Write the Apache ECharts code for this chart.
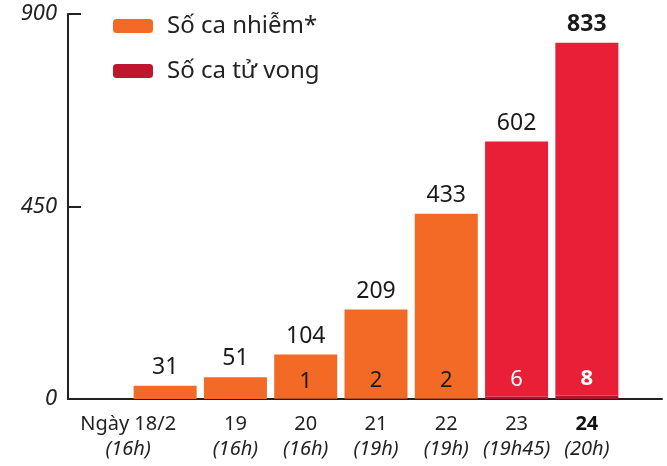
<!DOCTYPE html>
<html>
<head>
<meta charset="utf-8">
<script src="https://cdn.jsdelivr.net/npm/echarts@6/dist/echarts.min.js"></script>
<style>
  html, body { margin: 0; padding: 0; background: #fff; }
  #chart { width: 667px; height: 466px; }
</style>
</head>
<body>
<div id="chart"></div>
<script>
var days = ['Ngày 18/2', '19', '20', '21', '22', '23', '24'];
var times = ['(16h)', '(16h)', '(16h)', '(19h)', '(19h)', '(19h45)', '(20h)'];
var infected = [31, 51, 104, 209, 433, 602, 833];
var deaths = [0, 0, 1, 2, 2, 6, 8];
var yTicks = [0, 450, 900];

var ORANGE = '#f26a25';
var RED = '#e91f37';
var DARK = '#a51a2b';
var FONT = 'Noto Sans';

var myChart = echarts.init(document.getElementById('chart'));

var catData = days.map(function (d, i) {
    var item = { value: d };
    if (i === 0) {
        item.textStyle = { padding: [0, 74, 0, 0] };
    }
    return item;
});

var restData = infected.map(function (v, i) {
    return {
        value: v - deaths[i],
        itemStyle: { color: i >= 5 ? RED : ORANGE },
        label: i === 6 ? { fontWeight: 'bold' } : {}
    };
});

var deathData = deaths.map(function (v, i) {
    return {
        value: v,
        itemStyle: { color: i >= 5 ? DARK : '#c4501b' },
        label: {
            show: v > 0,
            color: i >= 5 ? '#fff' : '#1a1a1a',
            fontWeight: i === 6 ? 'bold' : 'normal'
        }
    };
});

var option = {
    animation: false,
    textStyle: { fontFamily: FONT },
    legend: {
        orient: 'vertical',
        left: 113,
        top: 12,
        padding: 0,
        itemWidth: 40,
        itemHeight: 14,
        itemGap: 17,
        selectedMode: false,
        textStyle: { fontSize: 24, color: '#222', lineHeight: 28, padding: [0, 0, 0, 9] },
        data: [
            { name: 'Số ca nhiễm*', itemStyle: { color: ORANGE } },
            { name: 'Số ca tử vong', itemStyle: { color: '#c0152f' } }
        ]
    },
    grid: [
        { left: 68, right: 5, top: 14, bottom: 67 },
        { left: 130, right: 45, top: 14, bottom: 67 }
    ],
    xAxis: [
        {
            gridIndex: 0,
            type: 'value',
            min: 0,
            max: 1,
            axisLine: { show: true, onZero: false, lineStyle: { color: '#222', width: 2 } },
            axisTick: { show: false },
            axisLabel: { show: false },
            splitLine: { show: false }
        },
        {
            gridIndex: 1,
            type: 'category',
            data: catData,
            axisLine: { show: false },
            axisTick: { show: false },
            axisLabel: {
                interval: 0,
                margin: 13,
                formatter: function (val, i) {
                    var top = i === 6 ? '{b|' + val + '}' : '{a|' + val + '}';
                    return top + '\n{t|' + times[i] + '}';
                },
                rich: {
                    a: { fontSize: 20, color: '#222', lineHeight: 25, fontFamily: FONT },
                    b: { fontSize: 20, color: '#111', fontWeight: 'bold', lineHeight: 25, fontFamily: FONT },
                    t: { fontSize: 20, color: '#222', fontStyle: 'italic', lineHeight: 25, fontFamily: FONT }
                }
            }
        }
    ],
    yAxis: [
        {
            gridIndex: 0,
            type: 'value',
            min: 0,
            max: 900,
            interval: 450,
            axisLine: { show: true, lineStyle: { color: '#222', width: 2 } },
            axisTick: { show: true, inside: true, length: 13, lineStyle: { color: '#222', width: 2 } },
            axisLabel: {
                margin: 11,
                fontSize: 22,
                fontStyle: 'italic',
                color: '#222',
                formatter: function (v) { return yTicks.indexOf(v) >= 0 ? String(v) : ''; }
            },
            splitLine: { show: false }
        },
        {
            gridIndex: 1,
            type: 'value',
            min: 0,
            max: 900,
            show: false,
            splitLine: { show: false }
        }
    ],
    series: [
        {
            name: 'Số ca tử vong',
            type: 'bar',
            xAxisIndex: 1,
            yAxisIndex: 1,
            stack: 'total',
            barWidth: 63,
            data: deathData,
            label: {
                show: true,
                position: 'top',
                distance: 6,
                fontSize: 22,
                fontFamily: FONT
            }
        },
        {
            name: 'Số ca nhiễm*',
            type: 'bar',
            xAxisIndex: 1,
            yAxisIndex: 1,
            stack: 'total',
            barWidth: 63,
            data: restData,
            label: {
                show: true,
                position: 'top',
                distance: 7,
                fontSize: 23,
                color: '#1a1a1a',
                fontFamily: FONT,
                formatter: function (p) { return String(infected[p.dataIndex]); }
            }
        }
    ]
};
myChart.setOption(option);
</script>
</body>
</html>
